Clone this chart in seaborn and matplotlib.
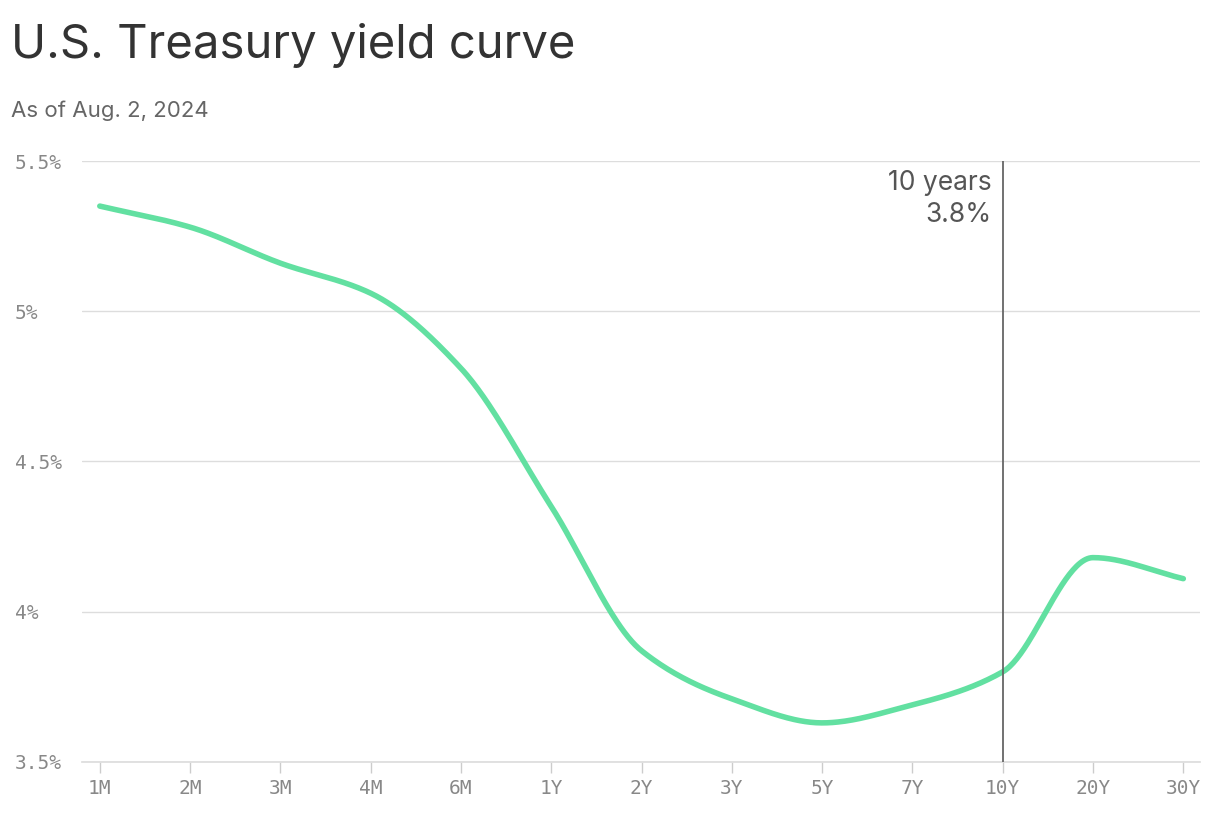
import numpy as np
import matplotlib
matplotlib.use("Agg")
import matplotlib.pyplot as plt
import seaborn as sns

maturities = ["1M","2M","3M","4M","6M","1Y","2Y","3Y","5Y","7Y","10Y","20Y","30Y"]
yields = [5.35, 5.28, 5.16, 5.06, 4.81, 4.35, 3.87, 3.71, 3.63, 3.69, 3.80, 4.18, 4.11]
y_ticks = [3.5, 4.0, 4.5, 5.0, 5.5]
y_tick_labels = ["3.5%", "4%", "4.5%", "5%", "5.5%"]

def monotone(x, y, n=600):
    x = np.asarray(x, float); y = np.asarray(y, float)
    h = np.diff(x); d = np.diff(y) / h
    m = np.zeros_like(y)
    m[0], m[-1] = d[0], d[-1]
    for i in range(1, len(y) - 1):
        if d[i-1] * d[i] <= 0:
            m[i] = 0
        else:
            m[i] = 3 * (h[i-1] + h[i]) / ((2*h[i] + h[i-1]) / d[i-1] + (h[i] + 2*h[i-1]) / d[i])
    xs = np.linspace(x[0], x[-1], n); ys = np.empty_like(xs)
    for k, xv in enumerate(xs):
        i = min(np.searchsorted(x, xv, side="right") - 1, len(h) - 1)
        t = (xv - x[i]) / h[i]
        h00 = 2*t**3 - 3*t**2 + 1; h10 = t**3 - 2*t**2 + t
        h01 = -2*t**3 + 3*t**2; h11 = t**3 - t**2
        ys[k] = h00*y[i] + h10*h[i]*m[i] + h01*y[i+1] + h11*h[i]*m[i+1]
    return xs, ys

sns.set_theme(style="white")
plt.rcParams['font.family'] = ['Inter', 'DejaVu Sans']
fig = plt.figure(figsize=(12.2, 8.3), dpi=100)
ax = fig.add_axes([0.067, 0.082, 0.917, 0.724])

pos = np.arange(len(maturities))
xs, ys = monotone(pos, yields)
sns.lineplot(x=xs, y=ys, ax=ax, color="#62e0a1", linewidth=4, solid_capstyle="round")

ax.set_xlim(-0.2, 12.19)
ax.set_ylim(3.5, 5.5)
ax.set_yticks(y_ticks)
ax.set_yticklabels(y_tick_labels, family="DejaVu Sans Mono", color="#888888", fontsize=14)
ax.set_xticks(pos)
ax.set_xticklabels(maturities, family="DejaVu Sans Mono", color="#888888", fontsize=14)
for l in ax.get_yticklabels():
    l.set_horizontalalignment("left")
ax.tick_params(axis="y", length=0, pad=48)
ax.tick_params(axis="x", length=8, color="#cccccc", width=1, pad=4, direction="out", bottom=True)
ax.grid(axis="y", color="#dddddd", linewidth=1)
for s in ["top", "right", "left"]:
    ax.spines[s].set_visible(False)
ax.spines["bottom"].set_color("#dddddd")

i10 = maturities.index("10Y")
ax.axvline(i10, color="#666666", linewidth=1.3, zorder=3)
ax.text(i10 - 0.12, 5.47, f"10 years\n{yields[i10]:.1f}%", ha="right", va="top",
        fontsize=19, color="#555555", linespacing=1.3)

fig.text(0.009, 0.945, "U.S. Treasury yield curve", fontsize=34, color="#333333", va="center")
fig.text(0.009, 0.866, "As of Aug. 2, 2024", fontsize=16, color="#666666", va="center")
fig.savefig("out.png", dpi=100)
